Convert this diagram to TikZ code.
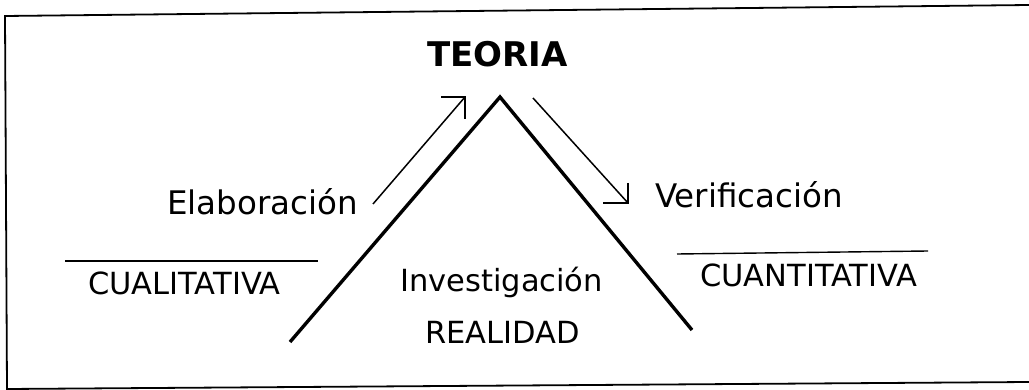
\documentclass[tikz,border=0pt]{standalone}
\usepackage{fontspec}
\setmainfont{DejaVu Sans}
\begin{document}
\begin{tikzpicture}[x=1pt,y=-1pt,
  lbl/.style={anchor=base west,inner sep=0pt,font=\fontsize{32.5}{38}\selectfont},
  sml/.style={anchor=base west,inner sep=0pt,font=\fontsize{30.5}{36}\selectfont},
  side/.style={line width=3.4pt},
  flow/.style={line width=1.5pt},
  rule/.style={line width=1.4pt},
  frame/.style={line width=1.8pt}]
\useasboundingbox (0,0) rectangle (1029,390);
% frame
\coordinate (f1) at (1029,5);
\coordinate (f2) at (5,16);
\coordinate (f3) at (7,389);
\coordinate (f4) at (1029,382);
\draw[frame] (f1) -- (f2) -- (f3) -- (f4);
% triangle
\coordinate (apex) at (500,97);
\coordinate (lfoot) at (290,342);
\coordinate (rfoot) at (692,330);
\draw[side,line join=miter] (lfoot) -- (apex) -- (rfoot);
% arrows
\coordinate (la0) at (373,204);
\coordinate (la1) at (465,97);
\coordinate (la2) at (441,97);
\coordinate (la3) at (465,119);
\draw[flow] (la0) -- (la1);
\draw[flow] (la2) -- (la1) -- (la3);
\coordinate (ra0) at (533,98);
\coordinate (ra1) at (628,203);
\coordinate (ra2) at (628,183);
\coordinate (ra3) at (603,203);
\draw[flow] (ra0) -- (ra1);
\draw[flow] (ra2) -- (ra1) -- (ra3);
% rules
\coordinate (l1) at (65,261);
\coordinate (l2) at (318,261);
\draw[rule] (l1) -- (l2);
\coordinate (r1) at (677,254);
\coordinate (r2) at (928,251);
\draw[rule] (r1) -- (r2);
% texts
\node[anchor=base west,inner sep=0pt,font=\fontsize{34}{40}\selectfont\bfseries] (teoria) at (427,67) {TEORIA};
\node[lbl] (elab) at (167,215) {Elaboración};
\node[lbl] (verif) at (655,208) {Verificación};
\node[sml] (cual) at (88,295) {CUALITATIVA};
\node[sml] (cuan) at (700,287) {CUANTITATIVA};
\node[sml] (inv) at (400,292) {Investigación};
\node[sml] (real) at (425,343) {REALIDAD};
\end{tikzpicture}
\end{document}
